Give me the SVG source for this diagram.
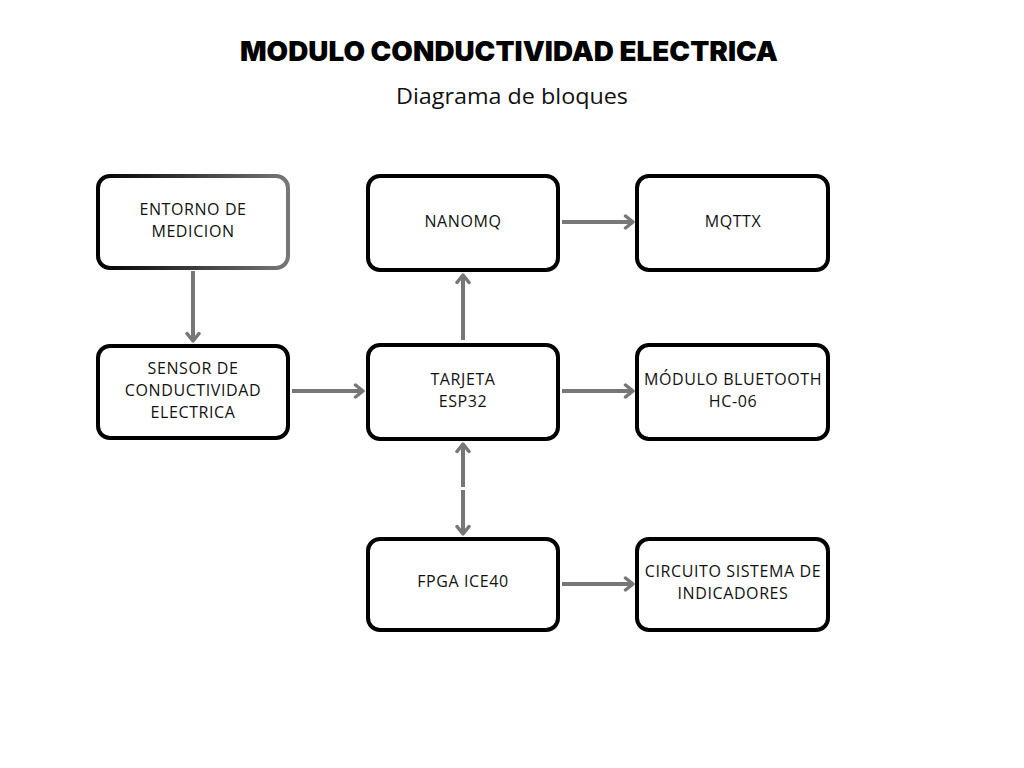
<svg xmlns="http://www.w3.org/2000/svg" width="1024" height="768" viewBox="0 0 1024 768">
<defs>
<style>
.node rect{fill:#fff;stroke:#000;stroke-width:4}
.node text{font-family:"Open Sans","Liberation Sans",sans-serif;font-size:16px;fill:#111;text-anchor:middle;letter-spacing:0.6px}
.conn line{stroke:#777;stroke-width:4;fill:none}
.title{font-family:"Inter","Noto Sans","Liberation Sans",sans-serif;font-weight:900;font-size:27px;fill:#000;text-anchor:middle}
.sub{font-family:"Open Sans","Liberation Sans",sans-serif;font-size:21px;fill:#111;text-anchor:middle}
</style>
<marker id="ah" viewBox="0 0 12 16" refX="10" refY="8" markerWidth="12" markerHeight="16" markerUnits="userSpaceOnUse" orient="auto-start-reverse">
<path d="M2.5,2 L10,8 L2.5,14" fill="none" stroke="#777" stroke-width="3.5" stroke-linecap="round" stroke-linejoin="round"/>
</marker>
<linearGradient id="gEnt" x1="0" y1="0" x2="1" y2="0">
<stop offset="0" stop-color="#000"/>
<stop offset="1" stop-color="#777"/>
</linearGradient>
</defs>
<rect width="1024" height="768" fill="#fff"/>
<text class="title" x="509" y="61" textLength="538" lengthAdjust="spacingAndGlyphs">MODULO CONDUCTIVIDAD ELECTRICA</text>
<text class="sub" x="512" y="104" textLength="232" lengthAdjust="spacingAndGlyphs">Diagrama de bloques</text>

<g id="connectors" class="conn">
<line x1="193" y1="271" x2="193" y2="341" marker-end="url(#ah)"/>
<line x1="292" y1="391" x2="363" y2="391" marker-end="url(#ah)"/>
<line x1="463" y1="340" x2="463" y2="275" marker-end="url(#ah)"/>
<line x1="562" y1="222" x2="633" y2="222" marker-end="url(#ah)"/>
<line x1="562" y1="391" x2="633" y2="391" marker-end="url(#ah)"/>
<line x1="463" y1="444" x2="463" y2="487" marker-start="url(#ah)"/>
<line x1="463" y1="490" x2="463" y2="534" marker-end="url(#ah)"/>
<line x1="562" y1="584" x2="633" y2="584" marker-end="url(#ah)"/>
</g>

<g id="entorno" class="node">
<rect x="98" y="176" width="190" height="92" rx="12" style="stroke:url(#gEnt)"/>
<text x="193" y="215">ENTORNO DE</text>
<text x="193" y="237">MEDICION</text>
</g>
<g id="sensor" class="node">
<rect x="98" y="346" width="190" height="92" rx="12"/>
<text x="193" y="374">SENSOR DE</text>
<text x="193" y="396">CONDUCTIVIDAD</text>
<text x="193" y="418">ELECTRICA</text>
</g>
<g id="nanomq" class="node">
<rect x="368" y="176" width="190" height="94" rx="12"/>
<text x="463" y="227">NANOMQ</text>
</g>
<g id="tarjeta" class="node">
<rect x="368" y="345" width="190" height="94" rx="12"/>
<text x="463" y="385">TARJETA</text>
<text x="463" y="407">ESP32</text>
</g>
<g id="mqttx" class="node">
<rect x="637" y="176" width="191" height="94" rx="12"/>
<text x="733" y="227">MQTTX</text>
</g>
<g id="bluetooth" class="node">
<rect x="637" y="345" width="191" height="94" rx="12"/>
<text x="733" y="385">MÓDULO BLUETOOTH</text>
<text x="733" y="407">HC-06</text>
</g>
<g id="fpga" class="node">
<rect x="368" y="539" width="190" height="91" rx="12"/>
<text x="463" y="587">FPGA ICE40</text>
</g>
<g id="circuito" class="node">
<rect x="637" y="539" width="191" height="91" rx="12"/>
<text x="733" y="577">CIRCUITO SISTEMA DE</text>
<text x="733" y="599">INDICADORES</text>
</g>
</svg>
